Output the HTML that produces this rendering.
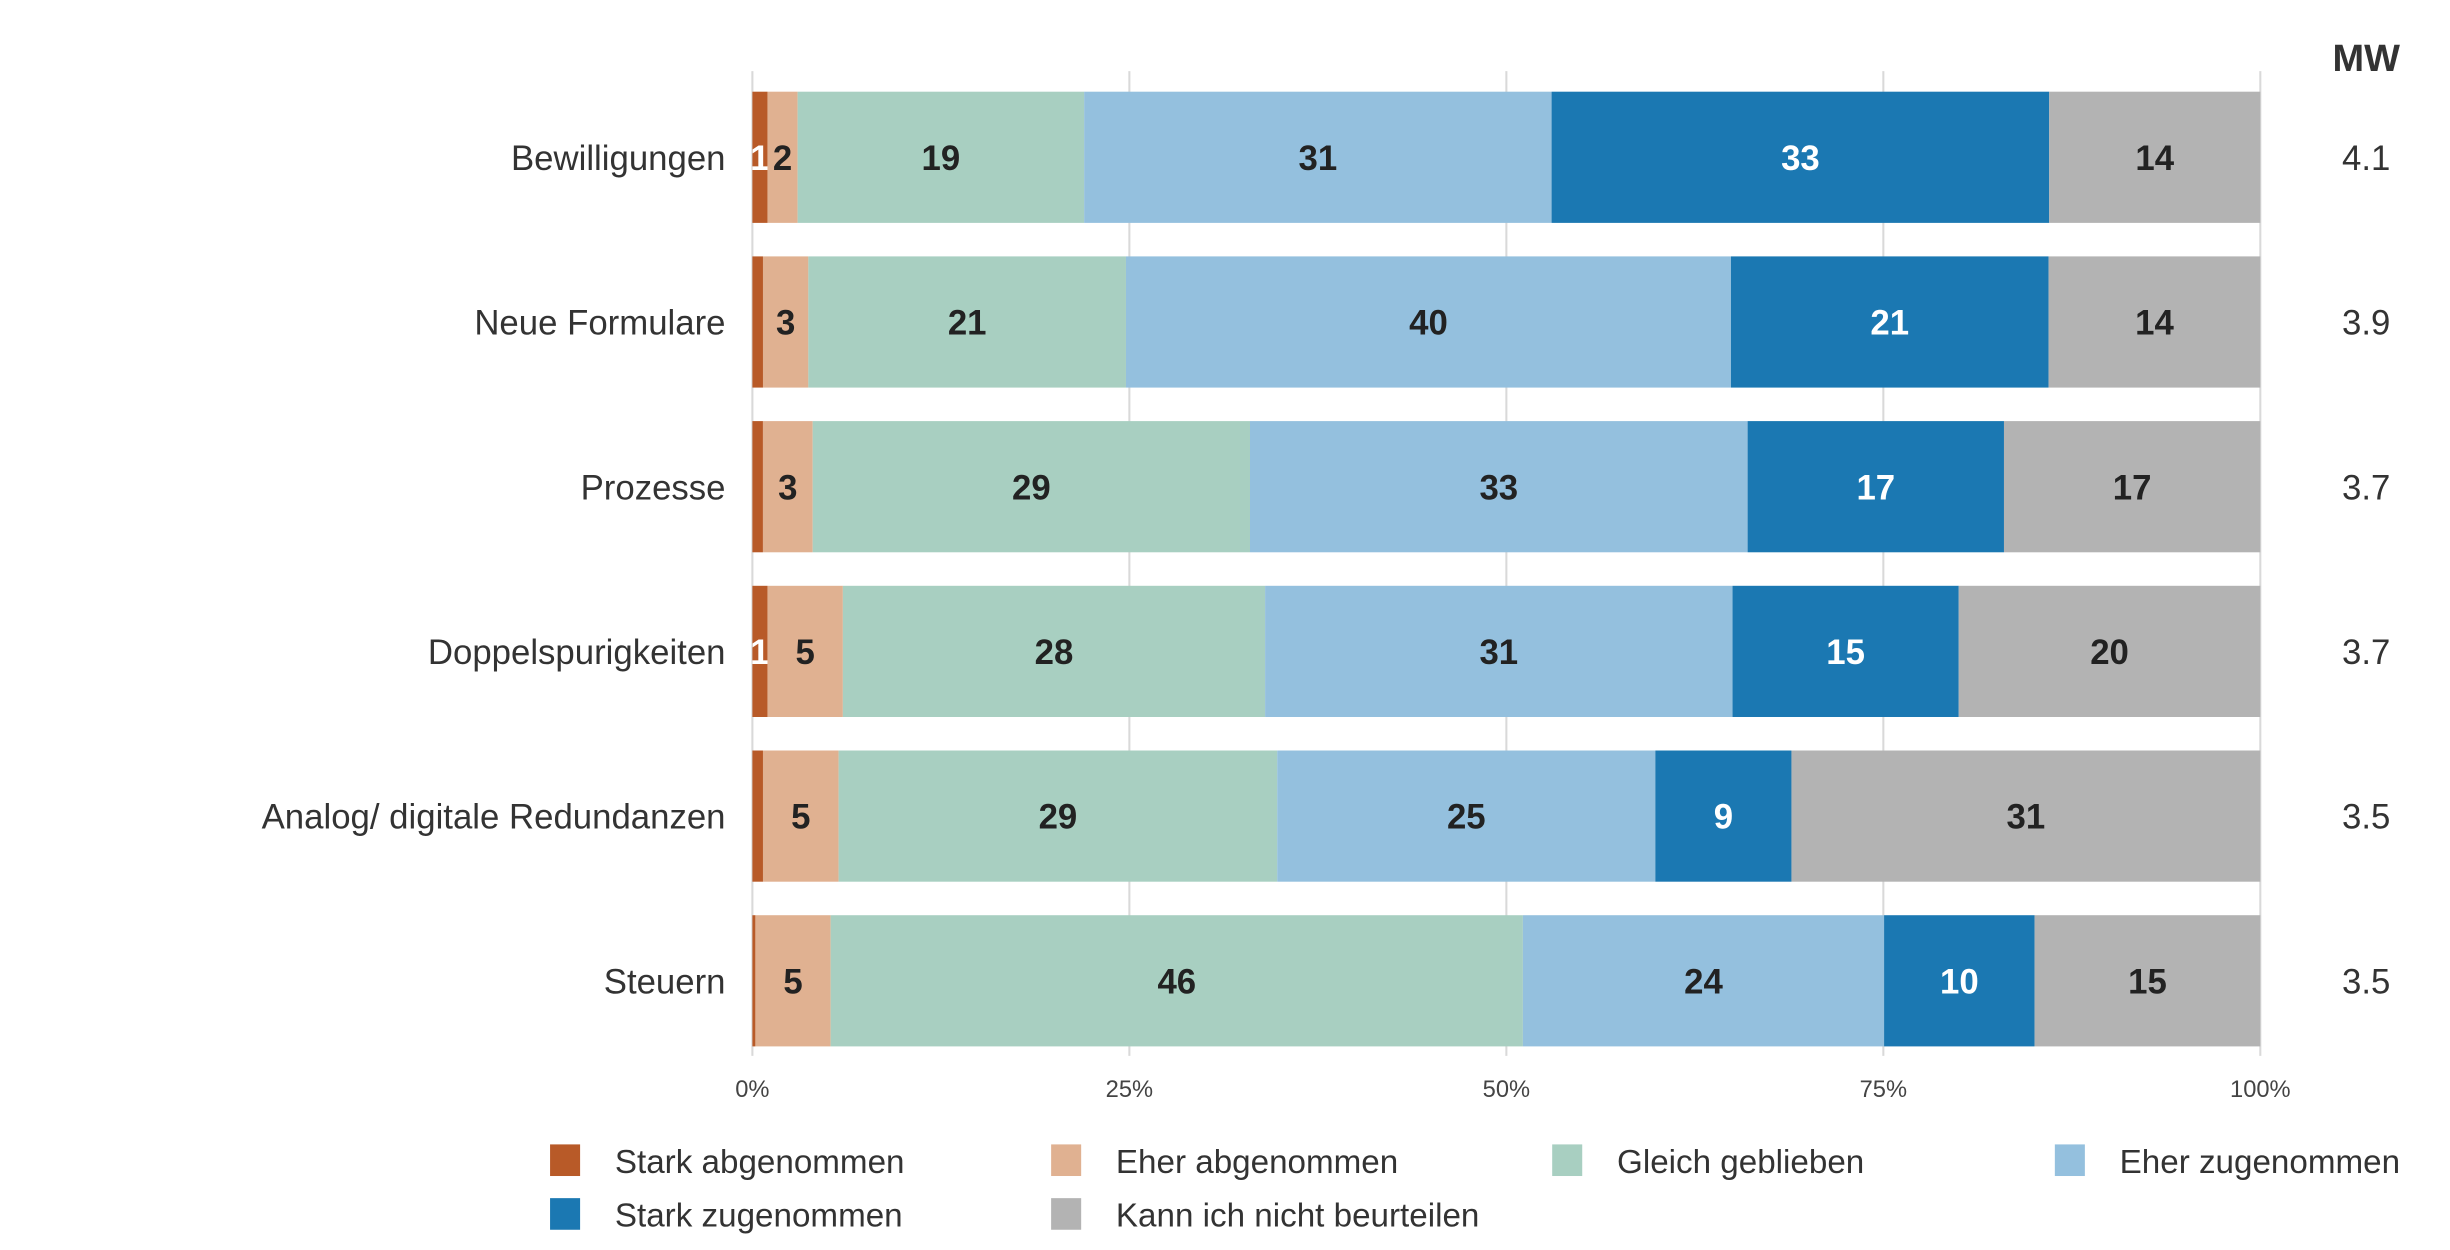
<!DOCTYPE html>
<html><head><meta charset="utf-8">
<style>
html,body{margin:0;padding:0;background:#fff;}
svg{display:block;font-family:"Liberation Sans",sans-serif;}
</style></head>
<body>
<svg id="chart" width="2450" height="1250" viewBox="0 0 1550 790.8" xmlns="http://www.w3.org/2000/svg">
<g id="grid"></g>
<g id="bars"></g>
<g id="labels"></g>
<g id="mw">
<text x="1497" y="45" text-anchor="middle" font-size="24" font-weight="bold" fill="#333">MW</text>
</g>
<g id="ticks"></g>
<g id="legend"></g>
</svg>
<script>
const categories = ["Bewilligungen","Neue Formulare","Prozesse","Doppelspurigkeiten","Analog/ digitale Redundanzen","Steuern"];
const starkAb = [1, 0.7, 0.7, 1, 0.7, 0.2];
const eherAb = [2, 3, 3.3, 5, 5, 5];
const gleich = [19, 21, 29, 28, 29, 46];
const eherZu = [31, 40, 33, 31, 25, 24];
const starkZu = [33, 21, 17, 15, 9, 10];
const kann = [14, 14, 17, 20, 31, 15];
const mwValues = ["4.1","3.9","3.7","3.7","3.5","3.5"];
const tickValues = [0, 25, 50, 75, 100];
const tickLabels = ["0%","25%","50%","75%","100%"];
const seriesNames = ["Stark abgenommen","Eher abgenommen","Gleich geblieben","Eher zugenommen","Stark zugenommen","Kann ich nicht beurteilen"];
const series = [starkAb, eherAb, gleich, eherZu, starkZu, kann];
const colors = ["#b85a28","#e0b191","#a8cfc1","#94c0de","#1b78b2","#b3b3b3"];
const textColors = ["#fff","#222","#222","#222","#fff","#222"];

const NS = "http://www.w3.org/2000/svg";
const X0 = 476, X1 = 1430, TOP = 58, PITCH = 104.2, BH = 83;
const xs = p => X0 + (X1 - X0) * p / 100;
const ys = i => TOP + i * PITCH;
function mk(tag, attrs, parent) {
  const e = document.createElementNS(NS, tag);
  for (const k in attrs) e.setAttribute(k, attrs[k]);
  parent.appendChild(e);
  return e;
}
const grid = document.getElementById('grid');
const ticks = document.getElementById('ticks');
tickValues.forEach((t, i) => {
  const l = mk('line', {x1: xs(t), x2: xs(t), y1: 45, y2: 668, stroke: '#d9d9d9', 'stroke-width': 1.3}, grid);
  
  
  const tx = mk('text', {x: xs(t), y: 694, 'text-anchor': 'middle', 'font-size': 15, fill: '#444'}, ticks);
  tx.textContent = tickLabels[i];
  
  
});
const bars = document.getElementById('bars');
const labels = document.getElementById('labels');
const mw = document.getElementById('mw');
categories.forEach((c, i) => {
  let total = 0;
  series.forEach(s => total += s[i]);
  let acc = 0;
  const y = ys(i);
  series.forEach((s, j) => {
    const v = s[i];
    const xa = xs(acc / total * 100), xb = xs((acc + v) / total * 100);
    const r = mk('rect', {x: xa, y: y, width: Math.max(0, xb - xa), height: BH, fill: colors[j]}, bars);
    
    
    if (v >= 1) {
      const t = mk('text', {x: (xa + xb) / 2, y: y + BH / 2 + 8, 'text-anchor': 'middle', 'font-size': 22, 'font-weight': 'bold', fill: textColors[j]}, bars);
      t.textContent = Math.round(v);
      
      
    }
    acc += v;
  });
  const lt = mk('text', {x: 459, y: y + BH / 2 + 8, 'text-anchor': 'end', 'font-size': 22, fill: '#333'}, labels);
  lt.textContent = c;
  
  
  const mt = mk('text', {x: 1497, y: y + BH / 2 + 8, 'text-anchor': 'middle', 'font-size': 22, fill: '#333'}, mw);
  mt.textContent = mwValues[i];
  
  
});
const legend = document.getElementById('legend');
const lx = [348, 665, 982, 1300];
seriesNames.forEach((n, j) => {
  const x = lx[j % 4], y = j < 4 ? 724 : 758;
  const g = mk('g', {}, legend);
  
  
  mk('rect', {x: x, y: y, width: 19, height: 20, fill: colors[j]}, g);
  const t = mk('text', {x: x + 41, y: y + 18, 'font-size': 21, fill: '#333'}, g);
  t.textContent = n;
});
</script>
</body></html>
